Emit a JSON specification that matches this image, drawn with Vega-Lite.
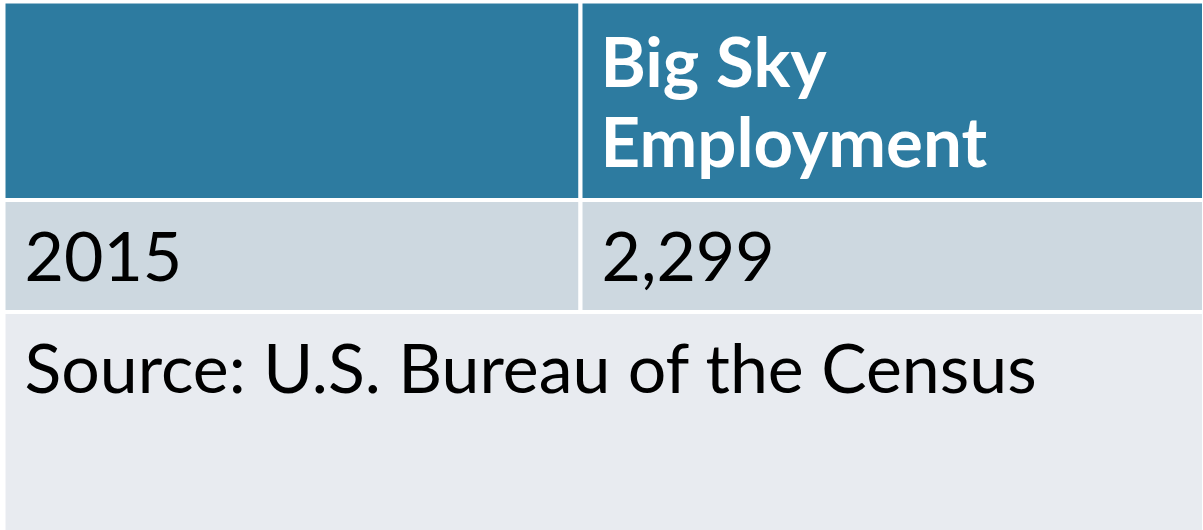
{
  "$schema": "https://vega.github.io/schema/vega-lite/v6.json",
  "width": 1203,
  "height": 530,
  "padding": 0,
  "autosize": {"type": "none"},
  "background": "#ffffff",
  "config": {"view": {"stroke": null}},
  "datasets": {
    "cells": [
      {"c0": 0, "c1": 1, "r0": 0, "r1": 1, "kind": "header"},
      {"c0": 1, "c1": 2, "r0": 0, "r1": 1, "kind": "header"},
      {"c0": 0, "c1": 1, "r0": 1, "r1": 2, "kind": "body"},
      {"c0": 1, "c1": 2, "r0": 1, "r1": 2, "kind": "body"},
      {"c0": 0, "c1": 2, "r0": 2, "r1": 3, "kind": "note"}
    ],
    "header": [
      {"c0": 1, "r0": 0, "label": "Big Sky\nEmployment"}
    ],
    "body": [
      {"c0": 0, "r0": 1, "label": "2015"},
      {"c0": 1, "r0": 1, "label": "2,299"},
      {"c0": 0, "r0": 2, "label": "Source: U.S. Bureau of the Census"}
    ]
  },
  "layer": [
    {
      "data": {"name": "cells"},
      "mark": {"type": "rect", "stroke": "#ffffff", "strokeWidth": 4},
      "encoding": {
        "x": {"field": "c0", "type": "quantitative", "axis": null,
              "scale": {"domain": [0, 1, 2], "range": [3.5, 580.5, 1204], "zero": false, "nice": false}},
        "x2": {"field": "c1"},
        "y": {"field": "r0", "type": "quantitative", "axis": null,
              "scale": {"domain": [0, 1, 2, 3], "range": [1.5, 200, 312, 532], "zero": false, "nice": false}},
        "y2": {"field": "r1"},
        "color": {"field": "kind", "type": "nominal", "legend": null,
                  "scale": {"domain": ["header", "body", "note"], "range": ["#2D7BA0", "#CDD8E0", "#E8EBF0"]}}
      }
    },
    {
      "data": {"name": "header"},
      "mark": {"type": "text", "align": "left", "baseline": "alphabetic", "dx": 20, "dy": 85,
               "font": "Lato", "fontWeight": "bold", "fontSize": 69, "lineBreak": "\n", "lineHeight": 80, "color": "#ffffff"},
      "encoding": {
        "x": {"field": "c0", "type": "quantitative"},
        "y": {"field": "r0", "type": "quantitative"},
        "text": {"field": "label"}
      }
    },
    {
      "data": {"name": "body"},
      "mark": {"type": "text", "align": "left", "baseline": "alphabetic", "dx": 21, "dy": 81,
               "font": "Lato", "fontSize": 68, "color": "#000000"},
      "encoding": {
        "x": {"field": "c0", "type": "quantitative"},
        "y": {"field": "r0", "type": "quantitative"},
        "text": {"field": "label"}
      }
    }
  ]
}
